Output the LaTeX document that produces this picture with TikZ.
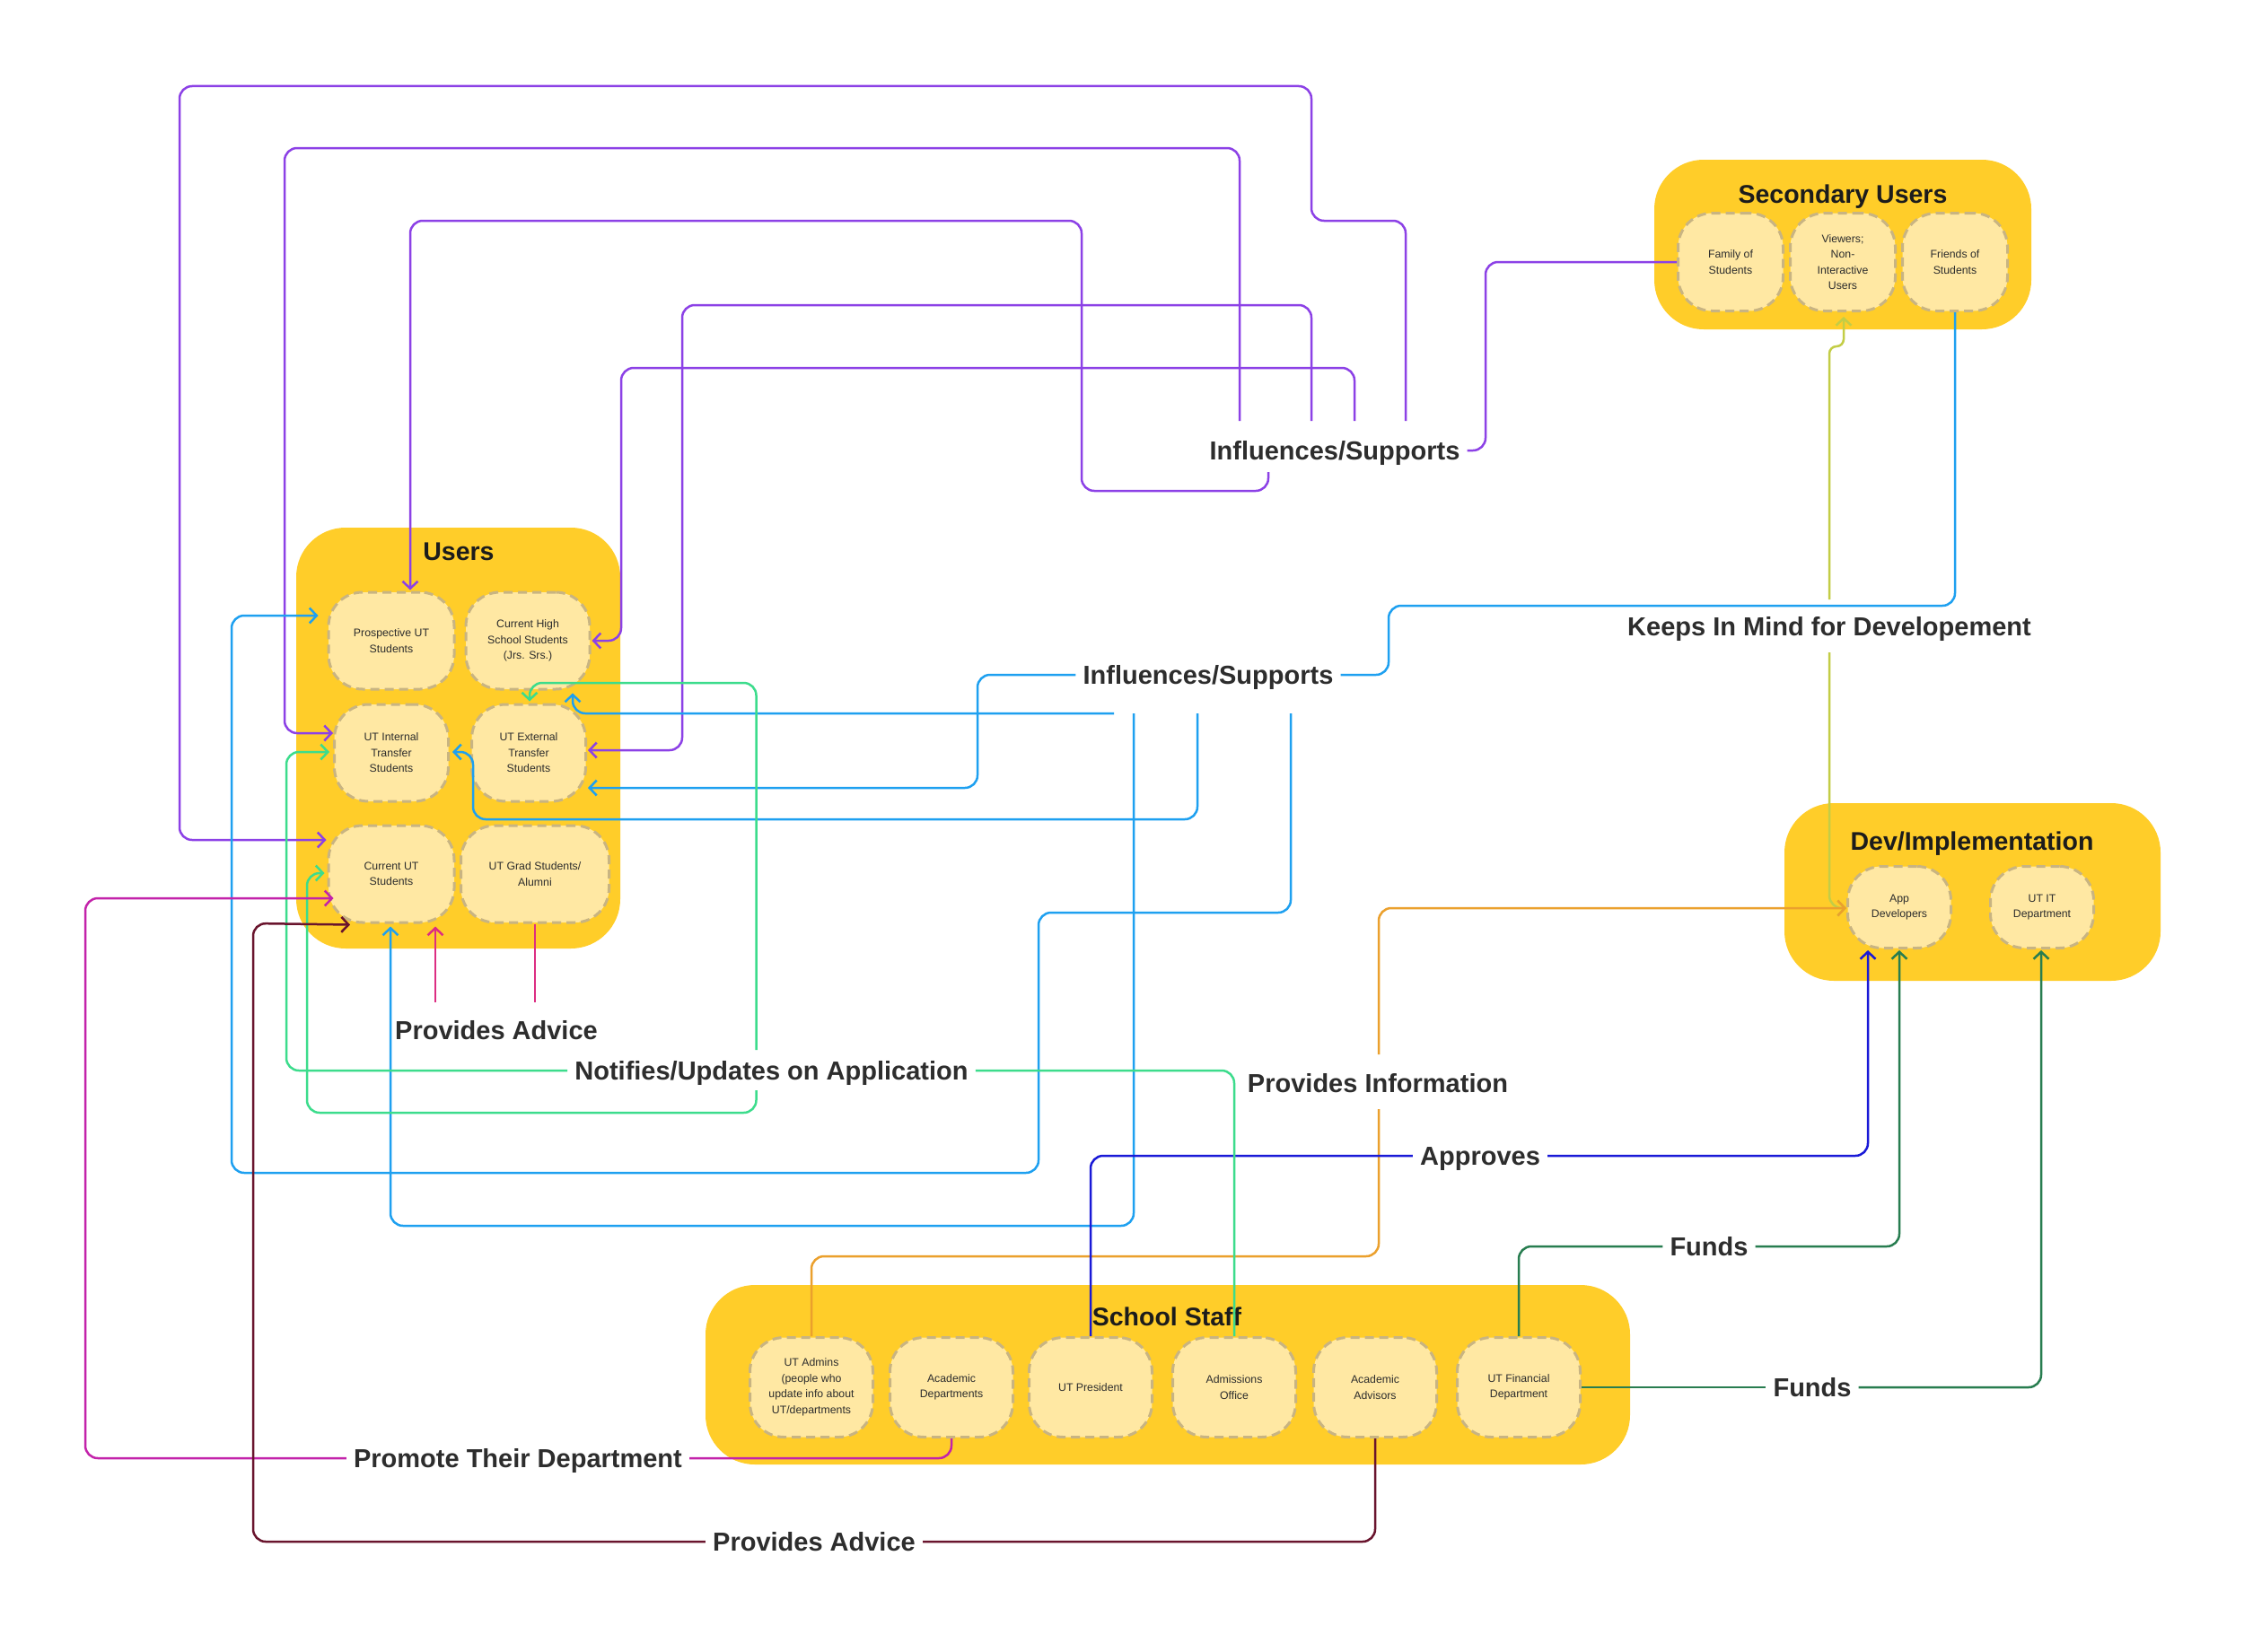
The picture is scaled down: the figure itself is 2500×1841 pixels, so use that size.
\documentclass[tikz,border=0pt]{standalone}
\usepackage{fontspec}
\setmainfont{Liberation Sans}
\usetikzlibrary{arrows.meta,calc}
\definecolor{grpY}{RGB}{255,205,41}
\definecolor{boxY}{RGB}{255,232,163}
\definecolor{boxB}{RGB}{200,180,130}
\definecolor{cPur}{RGB}{140,65,230}
\definecolor{cBlu}{RGB}{30,160,240}
\definecolor{cOli}{RGB}{195,205,70}
\definecolor{cOra}{RGB}{235,160,45}
\definecolor{cNav}{RGB}{25,25,215}
\definecolor{cDgr}{RGB}{40,125,80}
\definecolor{cLgr}{RGB}{60,220,140}
\definecolor{cMag}{RGB}{195,35,170}
\definecolor{cPnk}{RGB}{220,45,130}
\definecolor{cMar}{RGB}{105,20,45}
\definecolor{txtD}{RGB}{45,45,45}
\definecolor{ttlD}{RGB}{28,28,28}
\begin{document}
\begin{tikzpicture}[x=1pt,y=-1pt,
 grp/.style={fill=grpY, draw=none, rounded corners=55pt, inner sep=0pt},
 box/.style={fill=boxY, draw=boxB, line width=3pt, dash pattern=on 10pt off 6pt, rounded corners=38pt, align=center, inner sep=0pt, text=txtD, font=\fontsize{12.3}{17.5}\selectfont},
 ttl/.style={font=\fontsize{28.5}{34}\selectfont\bfseries, text=ttlD, inner sep=0pt, text height=20.5pt, text depth=0pt},
 lbl/.style={font=\fontsize{29}{35}\selectfont\bfseries, text=txtD, inner xsep=8pt, inner ysep=0pt, text height=21pt, text depth=0pt},
 con/.style={line width=2.5pt, rounded corners=14pt},
 arr/.style={-{Straight Barb[length=8pt,width=17pt]}},
 pur/.style={con, draw=cPur},
 blu/.style={con, draw=cBlu},
 oli/.style={con, draw=cOli},
 ora/.style={con, draw=cOra},
 nav/.style={con, draw=cNav},
 dgr/.style={con, draw=cDgr},
 lgr/.style={con, draw=cLgr},
 mag/.style={con, draw=cMag},
 pnk/.style={con, draw=cPnk},
 mar/.style={con, draw=cMar}
]
\useasboundingbox (0,0) rectangle (2500,1841);
\fill[white] (0,0) rectangle (2500,1841);

% groups
\node[grp, minimum width=361pt, minimum height=469pt] (gUsers) at (510.5,822.5) {};
\node[grp, minimum width=420pt, minimum height=189pt] (gSec) at (2053,272.5) {};
\node[grp, minimum width=419pt, minimum height=198pt] (gDev) at (2197.5,994) {};
\node[grp, minimum width=1030pt, minimum height=200pt] (gStaff) at (1301,1532) {};

% titles
\node[ttl] (tUsers) at (511,614) {Users};
\node[ttl] (tSec) at (2053,216) {Secondary Users};
\node[ttl] (tDev) at (2197,937) {Dev/Implementation};
\node[ttl] (tStaff) at (1300,1467) {School Staff};

% users
\node[box, minimum width=140pt, minimum height=108pt] (u1) at (436,714) {Prospective UT\\Students};
\node[box, minimum width=138pt, minimum height=108pt] (u2) at (588,714) {Current High\\School Students\\(Jrs. Srs.)};
\node[box, minimum width=127pt, minimum height=108pt] (u3) at (436,839) {UT Internal\\Transfer\\Students};
\node[box, minimum width=127pt, minimum height=108pt] (u4) at (589,839) {UT External\\Transfer\\Students};
\node[box, minimum width=140pt, minimum height=108pt] (u5) at (436,974) {Current UT\\Students};
\node[box, minimum width=165pt, minimum height=108pt] (u6) at (596,974) {UT Grad Students/\\Alumni};

% secondary
\node[box, minimum width=117pt, minimum height=109pt] (s1) at (1928,292) {Family of\\Students};
\node[box, minimum width=117pt, minimum height=109pt] (s2) at (2053,292) {Viewers;\\Non-\\Interactive\\Users};
\node[box, minimum width=117pt, minimum height=109pt] (s3) at (2178,292) {Friends of\\Students};

% dev
\node[box, minimum width=115pt, minimum height=91pt] (d1) at (2116,1011) {App\\Developers};
\node[box, minimum width=115pt, minimum height=91pt] (d2) at (2275,1011) {UT IT\\Department};

% staff
\node[box, minimum width=137pt, minimum height=111pt] (t1) at (904,1546) {UT Admins\\(people who\\update info about\\UT/departments};
\node[box, minimum width=137pt, minimum height=111pt] (t2) at (1060,1546) {Academic\\Departments};
\node[box, minimum width=137pt, minimum height=111pt] (t3) at (1215,1546) {UT President};
\node[box, minimum width=137pt, minimum height=111pt] (t4) at (1375,1546) {Admissions\\Office};
\node[box, minimum width=137pt, minimum height=111pt] (t5) at (1532,1546) {Academic\\Advisors};
\node[box, minimum width=137pt, minimum height=111pt] (t6) at (1692,1546) {UT Financial\\Department};

% labels
\node[lbl] (lblP) at (1487,502) {Influences/Supports};
\node[lbl] (lblB) at (1346,752) {Influences/Supports};
\node[lbl] (lblK) at (2038,698) {Keeps In Mind for Developement};
\node[lbl] (lblI) at (1535,1207) {Provides Information};
\node[lbl] (lblA) at (1649,1288) {Approves};
\node[lbl] (lblF1) at (1904,1389) {Funds};
\node[lbl] (lblF2) at (2019,1546) {Funds};
\node[lbl] (lblN) at (859.5,1193) {Notifies/Updates on Application};
\node[lbl] (lblPA) at (553,1148) {Provides Advice};
\node[lbl] (lblPT) at (577,1625) {Promote Their Department};
\node[lbl] (lblPA2) at (907,1718) {Provides Advice};

% purple
\draw[pur,arr] ($(lblP)+(79,-33)$) -- (1566,246) -- (1461,246) -- (1461,96) -- (200,96) -- (200,936) -- ($(u5.west)+(-1,-38)$);
\draw[pur,arr] ($(lblP)+(-106,-33)$) -- (1381,165) -- (317,165) -- (317,817) -- ($(u3.west)+(0,-22)$);
\draw[pur,arr] ($(lblP)+(-74,24)$) -- (1413,547) -- (1205,547) -- (1205,246) -- (457,246) -- ($(u1.north)+(21,-1)$);
\draw[pur,arr] ($(lblP)+(-26,-33)$) -- (1461,340) -- (760,340) -- (760,836) -- ($(u4.east)+(1,-3)$);
\draw[pur,arr] ($(lblP)+(22,-33)$) -- (1509,410) -- (692,410) -- (692,714) -- ($(u2.east)+(1,0)$);
\draw[pur] (s1.west) -- (1655,292) -- (1655,502) -- (lblP.east);

% blue
\draw[blu] (s3.south) -- (2178,675) -- (1547,675) -- (1547,752) -- (lblB.east);
\draw[blu,arr] (lblB.west) -- (1089,752) -- (1089,878) -- ($(u4.east)+(1,39)$);
\draw[blu,arr] ($(lblB)+(-105,43)$) -- (638,795) -- ($(u2.south)+(50,3)$);
\draw[blu,arr] ($(lblB)+(-83,43)$) -- (1263,1366) -- (435,1366) -- ($(u5.south)+(-1,3)$);
\draw[blu,arr] ($(lblB)+(-12,43)$) -- (1334,913) -- (527,913) -- (527,838) -- ($(u3.east)+(3,-1)$);
\draw[blu,arr] ($(lblB)+(92,43)$) -- (1438,1017) -- (1157,1017) -- (1157,1307) -- (258,1307) -- (258,686) -- ($(u1.west)+(-10,-28)$);

% olive
\draw[oli,arr,rounded corners=8pt] ($(lblK)+(0,-30)$) -- (2038,386) -- (2054,386) -- ($(s2.south)+(1,5)$);
\draw[oli,arr] ($(lblK)+(0,29)$) -- (2038,1012) -- ($(d1.west)+(0,1)$);

% orange
\draw[ora] (t1.north) -- (904,1400) -- (1536,1400) -- ($(lblI)+(1,29)$);
\draw[ora,arr] ($(lblI)+(1,-32)$) -- (1536,1012) -- ($(d1.west)+(0,1)$);

% navy
\draw[nav] (t3.north) -- (1215,1288) -- (lblA.west);
\draw[nav,arr] (lblA.east) -- (2081,1288) -- ($(d1.south)+(-35,1)$);

% dark green
\draw[dgr] (t6.north) -- (1692,1389) -- (lblF1.west);
\draw[dgr,arr] (lblF1.east) -- (2116,1389) -- ($(d1.south)+(0,1)$);
\draw[dgr] (t6.east) -- (lblF2.west);
\draw[dgr,arr] (lblF2.east) -- (2274,1546) -- ($(d2.south)+(-1,1)$);

% light green
\draw[lgr] (t4.north) -- (1375,1193) -- (lblN.east);
\draw[lgr,arr] (lblN.west) -- (319,1193) -- (319,838) -- ($(u3.west)+(-4,-1)$);
\draw[lgr,arr] ($(lblN)+(-17,-23)$) -- (842.5,761) -- (590,761) -- ($(u4.north)+(1,-2)$);
\draw[lgr,arr] ($(lblN)+(-17,22)$) -- (842.5,1240) -- (342,1240) -- (342,973) -- ($(u5.west)+(-3,-1)$);

% magenta
\draw[mag] (t2.south) -- (1060,1625) -- (lblPT.east);
\draw[mag,arr] (lblPT.west) -- (95,1625) -- (95,1001) -- ($(u5.west)+(7,27)$);

% pink
\draw[pnk] (u6.south) -- ($(lblPA)+(43,-31)$);
\draw[pnk,arr] ($(lblPA)+(-68,-31)$) -- ($(u5.south)+(49,3)$);

% maroon
\draw[mar] (t5.south) -- (1532,1718) -- (lblPA2.east);
\draw[mar,arr] (lblPA2.west) -- (282,1718) -- (282,1029) -- ($(u5.south)+(-46,1)$);
\end{tikzpicture}
\end{document}
